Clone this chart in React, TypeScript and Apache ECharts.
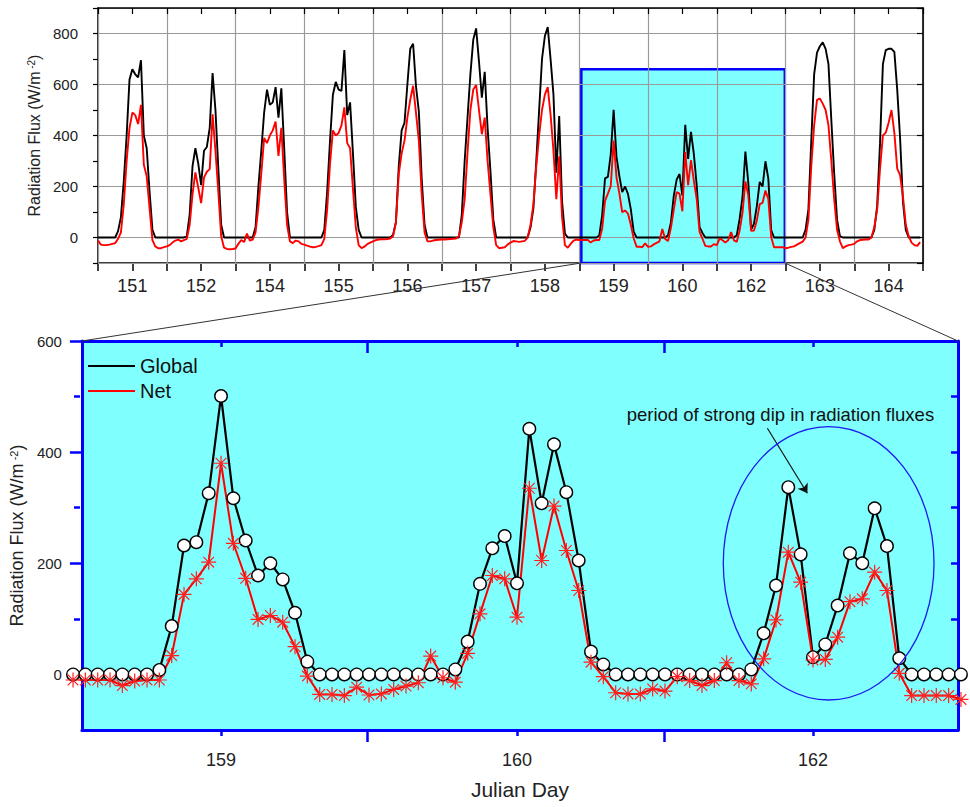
import React, { useEffect, useRef } from 'react';
import * as echarts from 'echarts';

// ---------- labels ----------
const topDayLabels = ['151', '152', '154', '155', '156', '157', '158', '159', '160', '162', '163', '164'];
const zoomDayLabels = ['159', '160', '162'];

// ---------- hourly values (W/m^2), one array per day, 24 values (hour 0..23) ----------
const global151 = [0, 0, 0, 0, 0, 0, 0, 25, 80, 220, 400, 620, 660, 640, 628, 695, 400, 350, 180, 30, 0, 0, 0, 0];
const net151 = [-12, -28, -30, -30, -28, -25, -22, -5, 20, 130, 300, 430, 490, 480, 445, 520, 285, 240, 115, -10, -35, -42, -42, -38];
const global152 = [0, 0, 0, 0, 0, 0, 0, 5, 90, 280, 350, 290, 205, 340, 355, 430, 645, 500, 270, 50, 0, 0, 0, 0];
const net152 = [-35, -30, -20, -12, -8, -15, -10, -5, 50, 170, 255, 195, 135, 235, 258, 268, 483, 340, 180, 5, -40, -45, -46, -45];
const global154 = [0, 0, 0, 0, 0, 0, 0, 40, 200, 340, 490, 580, 520, 530, 590, 470, 585, 350, 100, 0, 0, 0, 0, 0];
const net154 = [-43, -25, -10, -18, 15, -12, -8, 20, 120, 250, 390, 370, 400, 420, 455, 320, 430, 230, 50, -15, -22, -12, -15, -25];
const global155 = [0, 0, 0, 0, 0, 0, 0, 30, 180, 380, 560, 610, 580, 575, 735, 480, 530, 330, 120, 30, 0, 0, 0, 0];
const net155 = [-28, -32, -36, -38, -37, -34, -30, -5, 110, 290, 420, 400, 410, 440, 510, 370, 350, 190, 40, -30, -42, -36, -26, -20];
const global156 = [0, 0, 0, 0, 0, 0, 0, 10, 60, 280, 420, 450, 600, 740, 760, 594, 495, 230, 50, 0, 0, 0, 0, 0];
const net156 = [-15, -10, -8, -7, -7, -6, -4, 5, 60, 250, 330, 380, 470, 540, 595, 490, 380, 170, 20, -15, -15, -12, -10, -9];
const global157 = [0, 0, 0, 0, 0, 0, 0, 90, 300, 470, 640, 776, 820, 690, 548, 650, 430, 260, 70, 0, 0, 0, 0, 0];
const net157 = [-8, -8, -7, -6, -5, -4, 5, 60, 150, 333, 500, 580, 598, 500, 405, 470, 300, 170, 40, -30, -42, -40, -38, -28];
const global158 = [0, 0, 0, 0, 0, 0, 0, 40, 115, 300, 500, 700, 790, 825, 698, 560, 254, 476, 140, 15, 0, 0, 0, 0];
const net158 = [-20, -14, -15, -17, -15, -13, 0, 50, 130, 280, 400, 500, 560, 590, 480, 340, 150, 318, 80, -30, -40, -25, -12, -8];
const global163 = [0, 0, 0, 0, 0, 0, 0, 30, 110, 380, 640, 725, 750, 765, 740, 680, 460, 250, 70, 5, 0, 0, 0, 0];
const net163 = [-42, -40, -37, -35, -28, -22, -16, 0, 70, 280, 440, 540, 545, 525, 500, 440, 300, 150, 30, -15, -42, -35, -30, -28];
const global164 = [0, 0, 0, 0, 0, 0, 0, 30, 124, 370, 680, 735, 740, 740, 728, 580, 390, 140, 30, 0, 0, 0, 0, 0];
const net164 = [-25, -15, -10, -9, -8, -8, 0, 40, 110, 270, 400, 411, 450, 500, 410, 270, 245, 160, 50, 5, -20, -30, -33, -18];

// zoomed period: days 159, 160, 162 hourly (73 values, hour 0 of 159 .. hour 0 of 163)
const zoomGlobal = [
  0, 0, 0, 0, 0, 0, 0, 8, 87, 232, 238, 326, 501, 317, 241, 178, 200, 171, 111, 23, 0, 0, 0, 0,
  0, 0, 0, 0, 0, 0, 0, 9, 59, 163, 227, 249, 164, 442, 308, 414, 328, 205, 41, 18, 0, 0, 0, 0,
  0, 0, 0, 0, 0, 0, 0, 9, 74, 160, 337, 216, 31, 54, 124, 218, 200, 299, 231, 29, 0, 0, 0, 0,
  0,
];
const zoomNet = [
  -10, -10, -10, -10, -20, -12, -10, -10, 34, 144, 172, 202, 380, 236, 173, 99, 106, 94, 50, -3, -36, -36, -38, -23,
  -37, -35, -27, -21, -15, 33, -6, -14, 38, 109, 178, 172, 103, 335, 205, 303, 223, 151, 22, -4, -33, -35, -35, -26,
  -30, -4, -11, -20, -11, 21, -11, -17, 28, 98, 220, 166, 26, 27, 67, 131, 136, 184, 151, 2, -38, -38, -38, -38,
  -45,
];

const topGlobal = [
  ...global151, ...global152, ...global154, ...global155, ...global156, ...global157, ...global158,
  ...zoomGlobal.slice(0, 72), ...global163, ...global164,
];
const topNet = [
  ...net151, ...net152, ...net154, ...net155, ...net156, ...net157, ...net158,
  ...zoomNet.slice(0, 72), ...net163, ...net164,
];

// zoom box in top-panel coordinates (day index, flux)
const zoomBox = [[6.53, -100], [9.49, 660]];
const zoomRange = [-0.47, 2.49];

// annotation anchors (bottom-panel data coordinates)
const annoText = 'period of strong dip in radiation fluxes';
const annoTextAt = [1.89, 467];
const arrowFrom = [1.846, 443];
const arrowTo = [1.981, 326];
const ellipseCenter = [2.053, 200];
const ellipseRadius = [0.356, 246];

const hourX = (k: number) => -0.5 + k / 24;
const FONT = 'Liberation Sans, Arial, Helvetica, sans-serif';
const CYAN = '#80ffff';
const BLUE = '#0000ff';
const STAR = 'path://M10 0L10 20M0 10L20 10M2.9 2.9L17.1 17.1M2.9 17.1L17.1 2.9';

export default function App() {
  const ref = useRef<HTMLDivElement>(null);
  useEffect(() => {
    if (!ref.current) return;
    const chart = echarts.init(ref.current, undefined, { renderer: 'svg' });
    const isInt = (v: number) => Math.abs(v - Math.round(v)) < 1e-6;
    const blueLine = { show: true, onZero: false, lineStyle: { color: BLUE, width: 3 } };
    const noLine = { show: false, onZero: false };
    const blackLine = { show: true, onZero: false, lineStyle: { color: '#000', width: 1.6 } };
    const option: any = {
      animation: false,
      backgroundColor: '#ffffff',
      textStyle: { fontFamily: FONT },
      grid: [
        { left: 98, top: 8, width: 825, height: 255, show: false },
        { left: 80, top: 341, width: 878, height: 389, show: true, backgroundColor: CYAN, borderWidth: 0 },
        { left: 80, top: 341, width: 878, height: 389, show: false },
      ],
      legend: {
        orient: 'vertical',
        left: 83,
        top: 351,
        itemWidth: 47,
        itemHeight: 2,
        itemGap: 5,
        selectedMode: false,
        textStyle: { fontSize: 20, color: '#111', fontFamily: FONT },
        data: [
          { name: 'Global', icon: 'rect', itemStyle: { color: '#000', borderWidth: 0 } },
          { name: 'Net', icon: 'rect', itemStyle: { color: '#ff0000', borderWidth: 0 } },
        ],
      },
      xAxis: [
        {
          gridIndex: 0, type: 'value', position: 'bottom', min: -0.5, max: 11.5, interval: 0.5,
          axisLine: blackLine,
          axisTick: { show: true, length: 8, lineStyle: { color: '#000', width: 1.5 } },
          axisLabel: {
            margin: 14, fontSize: 18, color: '#222', fontFamily: FONT,
            formatter: (v: number) => (isInt(v) ? topDayLabels[Math.round(v)] ?? '' : ''),
          },
          splitLine: { show: false },
        },
        {
          gridIndex: 0, type: 'value', position: 'top', min: -0.5, max: 11.5, interval: 1, z: 1.5,
          axisLine: blackLine,
          axisTick: { show: true, inside: true, length: 6, lineStyle: { color: '#000', width: 1.2 } },
          minorTick: { show: true, splitNumber: 2, length: 6, lineStyle: { color: '#000', width: 1.2 } },
          axisLabel: { show: false },
          splitLine: { show: true, lineStyle: { color: '#9a9a9a', width: 1.2 } },
        },
        {
          gridIndex: 1, type: 'value', position: 'bottom', min: zoomRange[0], max: zoomRange[1],
          axisLine: blueLine,
          axisTick: { show: true, length: 6, customValues: [0, 1, 2], lineStyle: { color: BLUE, width: 2.5 } },
          axisLabel: {
            margin: 21, fontSize: 18, color: '#222', fontFamily: FONT, customValues: [0, 1, 2],
            formatter: (v: number) => zoomDayLabels[Math.round(v)] ?? '',
          },
          splitLine: { show: false },
          name: 'Julian Day', nameLocation: 'middle', nameGap: 49,
          nameTextStyle: { fontSize: 21, color: '#222', fontFamily: FONT },
        },
        {
          gridIndex: 1, type: 'value', position: 'top', min: zoomRange[0], max: zoomRange[1],
          axisLine: blueLine,
          axisTick: { show: true, inside: true, length: 6, customValues: [0, 1, 2], lineStyle: { color: BLUE, width: 2.5 } },
          axisLabel: { show: false },
          splitLine: { show: false },
        },
        {
          gridIndex: 2, type: 'value', position: 'bottom', min: zoomRange[0], max: zoomRange[1],
          axisLine: noLine,
          axisTick: { show: true, length: 12, customValues: [0.5, 1.5], lineStyle: { color: BLUE, width: 2.5 } },
          axisLabel: { show: false },
          splitLine: { show: false },
        },
        {
          gridIndex: 2, type: 'value', position: 'top', min: zoomRange[0], max: zoomRange[1],
          axisLine: noLine,
          axisTick: { show: true, inside: true, length: 12, customValues: [0.5, 1.5], lineStyle: { color: BLUE, width: 2.5 } },
          axisLabel: { show: false },
          splitLine: { show: false },
        },
      ],
      yAxis: [
        {
          gridIndex: 0, type: 'value', position: 'left', min: -100, max: 900, interval: 100,
          axisLine: blackLine,
          axisTick: { show: true, length: 5, lineStyle: { color: '#000', width: 1.2 } },
          axisLabel: {
            margin: 20, fontSize: 15, color: '#222', fontFamily: FONT,
            formatter: (v: number) => (v >= 0 && v <= 800 && Math.round(v) % 200 === 0 ? String(Math.round(v)) : ''),
          },
          splitLine: { show: false },
          name: 'Radiation Flux (W/m{sup| -2})', nameLocation: 'middle', nameGap: 52,
          nameTextStyle: {
            fontSize: 16, color: '#222', fontFamily: FONT,
            rich: { sup: { fontSize: 10, verticalAlign: 'top', color: '#222', fontFamily: FONT } },
          },
        },
        {
          gridIndex: 0, type: 'value', position: 'right', min: -100, max: 900, splitNumber: 5, z: 1.5,
          axisLine: blackLine,
          axisTick: { show: true, inside: true, length: 6, lineStyle: { color: '#000', width: 1.2 } },
          axisLabel: { show: false },
          splitLine: { show: true, lineStyle: { color: '#9a9a9a', width: 1.2 } },
        },
        {
          gridIndex: 1, type: 'value', position: 'left', min: -100, max: 600,
          axisLine: blueLine,
          axisTick: { show: true, length: 12, customValues: [0, 200, 400, 600], lineStyle: { color: BLUE, width: 2.5 } },
          axisLabel: { margin: 20, fontSize: 15, color: '#222', fontFamily: FONT, customValues: [0, 200, 400, 600] },
          splitLine: { show: false },
          name: 'Radiation Flux (W/m{sup| -2})', nameLocation: 'middle', nameGap: 49,
          nameTextStyle: {
            fontSize: 18, color: '#222', fontFamily: FONT,
            rich: { sup: { fontSize: 11, verticalAlign: 'top', color: '#222', fontFamily: FONT } },
          },
        },
        {
          gridIndex: 1, type: 'value', position: 'right', min: -100, max: 600,
          axisLine: blueLine,
          axisTick: { show: true, inside: true, length: 7, customValues: [100, 200, 300, 400, 500], lineStyle: { color: BLUE, width: 2.5 } },
          axisLabel: { show: false },
          splitLine: { show: false },
        },
        {
          gridIndex: 2, type: 'value', position: 'left', min: -100, max: 600,
          axisLine: noLine,
          axisTick: { show: true, length: 6, customValues: [100, 300, 500], lineStyle: { color: BLUE, width: 2.5 } },
          axisLabel: { show: false },
          splitLine: { show: false },
        },
      ],
      series: [
        {
          name: 'GlobalTop', type: 'line', xAxisIndex: 0, yAxisIndex: 0, z: 3,
          data: topGlobal.map((v, k) => [hourX(k), v]),
          showSymbol: false, symbol: 'none',
          lineStyle: { color: '#000', width: 1.9 },
          markArea: {
            silent: true, z: 1,
            itemStyle: { color: CYAN, borderColor: BLUE, borderWidth: 2.5 },
            label: { show: false },
            data: [[{ coord: zoomBox[0] }, { coord: zoomBox[1] }]],
          },
        },
        {
          name: 'NetTop', type: 'line', xAxisIndex: 0, yAxisIndex: 0, z: 3,
          data: topNet.map((v, k) => [hourX(k), v]),
          showSymbol: false, symbol: 'none',
          lineStyle: { color: '#ff0000', width: 1.9 },
        },
        {
          name: 'Global', type: 'line', xAxisIndex: 2, yAxisIndex: 2, clip: false,
          data: zoomGlobal.map((v, i) => [hourX(i), v]),
          symbol: 'circle', symbolSize: 12.5, showSymbol: true,
          lineStyle: { color: '#000', width: 2.2 },
          itemStyle: { color: '#ffffff', borderColor: '#000', borderWidth: 1.4 },
        },
        {
          name: 'GlobalDot', type: 'scatter', xAxisIndex: 2, yAxisIndex: 2, clip: false,
          data: zoomGlobal.map((v, i) => [hourX(i), v]),
          symbol: 'circle', symbolSize: 2.5,
          itemStyle: { color: '#333' },
        },
        {
          name: 'Net', type: 'line', xAxisIndex: 2, yAxisIndex: 2, clip: false,
          data: zoomNet.map((v, i) => [hourX(i), v]),
          symbol: STAR, symbolSize: 15, showSymbol: true,
          lineStyle: { color: '#ff0000', width: 2 },
          itemStyle: { color: '#ff0000', borderColor: '#ff2020', borderWidth: 1.2 },
          markLine: {
            silent: true,
            symbol: ['none', 'arrow'],
            symbolSize: 9,
            label: { show: false },
            lineStyle: { color: '#111', width: 1.2, type: 'solid' },
            data: [[{ coord: arrowFrom }, { coord: arrowTo }]],
          },
        },
      ],
    };
    chart.setOption(option);

    const pTop = (v: number[]) => chart.convertToPixel({ seriesIndex: 0 }, v) as number[];
    const pBot = (v: number[]) => chart.convertToPixel({ seriesIndex: 2 }, v) as number[];
    const c = pBot(ellipseCenter);
    const e = pBot([ellipseCenter[0] + ellipseRadius[0], ellipseCenter[1] + ellipseRadius[1]]);
    const t = pBot(annoTextAt);
    const boxL = pTop([zoomBox[0][0], zoomBox[0][1]]);
    const boxR = pTop([zoomBox[1][0], zoomBox[0][1]]);
    const botL = pBot([zoomRange[0], 600]);
    const botR = pBot([zoomRange[1], 600]);
    chart.setOption({
      graphic: [
        {
          type: 'ellipse', z: 10, silent: true,
          shape: { cx: c[0], cy: c[1], rx: e[0] - c[0], ry: c[1] - e[1] },
          style: { fill: 'none', stroke: '#1c1cf0', lineWidth: 1.3 },
        },
        {
          type: 'text', z: 10, silent: true, x: t[0], y: t[1],
          style: { text: annoText, fill: '#111', font: `18.5px ${FONT}`, textAlign: 'center', textVerticalAlign: 'middle' },
        },
        {
          type: 'line', z: 10, silent: true,
          shape: { x1: boxL[0], y1: boxL[1], x2: botL[0], y2: botL[1] },
          style: { stroke: '#333', lineWidth: 1 },
        },
        {
          type: 'line', z: 10, silent: true,
          shape: { x1: boxR[0], y1: boxR[1], x2: botR[0], y2: botR[1] },
          style: { stroke: '#333', lineWidth: 1 },
        },
      ],
    });
    return () => chart.dispose();
  }, []);
  return (
    <div
      ref={ref}
      style={{ position: 'fixed', left: 0, top: 0, width: 970, height: 807, background: '#fff' }}
    />
  );
}
